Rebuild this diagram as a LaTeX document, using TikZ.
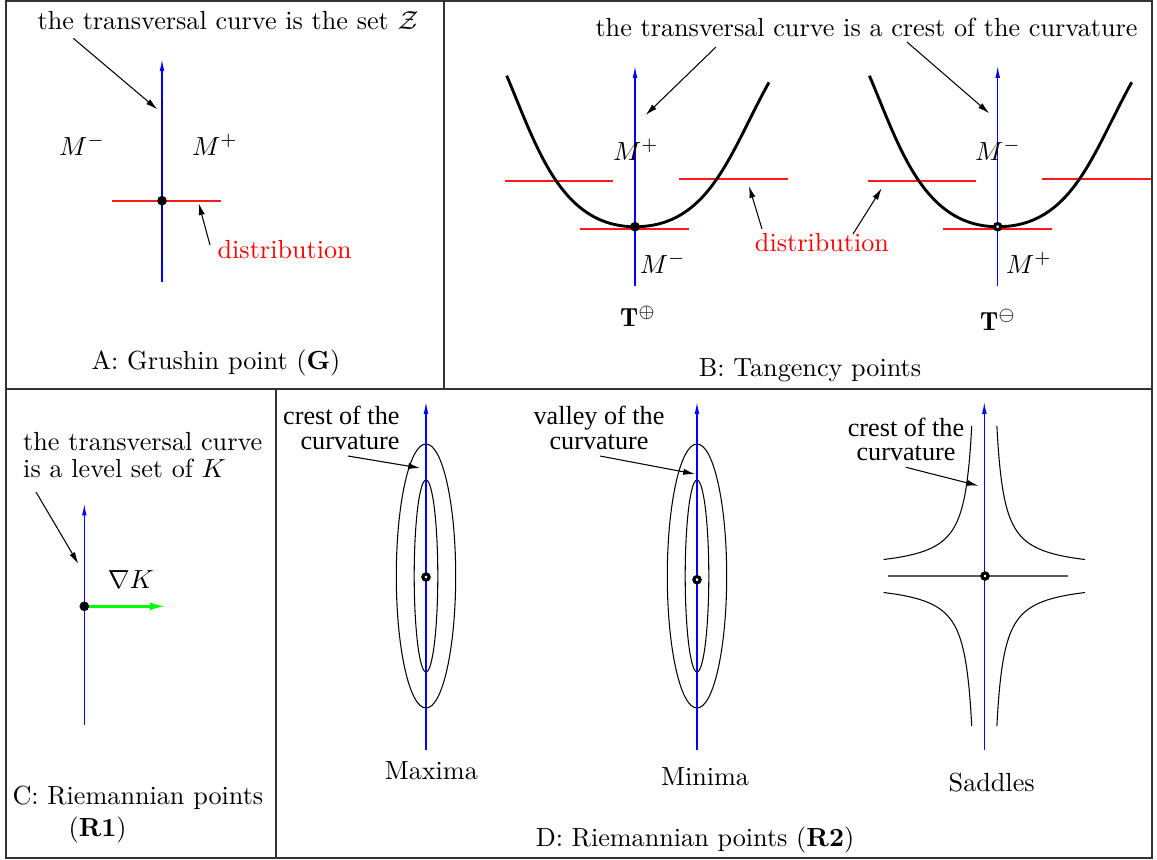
\documentclass[tikz,border=0pt]{standalone}
\usepackage{fontspec}
\newfontfamily\timesfont{Liberation Serif}
\usetikzlibrary{arrows.meta}
\begin{document}
\begin{tikzpicture}[x=0.382pt,y=-0.382pt,
    axis/.style={blue,line width=0.45pt,-{Latex[length=4.5pt,width=1.8pt]}},
    pointer/.style={line width=0.4pt,-{Latex[length=4.5pt,width=2.4pt]}},
    distr/.style={red!90,line width=0.7pt},
    ring/.style={line width=1.2pt},
    level/.style={line width=0.4pt},
    tag/.style={anchor=base},
    note/.style={anchor=base,align=center,font=\timesfont\fontsize{10}{9.3}\selectfont}]
    \useasboundingbox (0,0) rectangle (1157,859);
    % frames
    \draw[gray!40!black,line width=0.75pt] (6,1) rectangle (1152,858);
    \draw[gray!40!black,line width=0.75pt] (6,389) -- (1152,389) (444,1) -- (444,389) (276,389) -- (276,858);

    % A: Grushin point
    \coordinate (gA) at (162,200.7);
    \coordinate (zA) at (73.3,38.3);
    \coordinate (zB) at (157.3,109.3);
    \coordinate (dA) at (210,245);
    \coordinate (dB) at (198.7,203.3);
    \draw[axis] (162,281.7) -- (162,59.3);
    \draw[blue!70!black,line width=1.1pt] (162,263.3) -- (162,98.3);
    \draw[distr] (112,201.3) -- (220.7,201.3);
    \draw[ring,fill] (gA) circle (1.2pt);
    \node[tag] (titleA) at (228.2,29.3) {the transversal curve is the set $\mathcal{Z}$};
    \node[tag] (mminusA) at (82,155) {$M^-$};
    \node[tag] (mplusA) at (215,155) {$M^+$};
    \node[tag,red] (distA) at (284.7,258.3) {distribution};
    \node[tag] (capA) at (216,369) {A: Grushin point (\textbf{G})};
    \draw[pointer] (zA) -- (zB);
    \draw[pointer] (dA) -- (dB);

    % B: tangency points
    \foreach \cx/\f in {635/black,997.7/white}{
      \draw[axis] (\cx,286) -- (\cx,66);
      \draw[distr] ({\cx-130},180.7) -- ({\cx-22},180.7);
      \draw[distr] ({\cx+44.3},179.3) -- ({\cx+153},179.3);
      \draw[distr] ({\cx-55},229) -- ({\cx+54},229);
      \draw[line width=1.1pt] ({\cx-128.3},75.7) .. controls ({\cx-98.5},145.7) and ({\cx-75},226.7) .. (\cx,226.7)
        .. controls ({\cx+75},226.7) and ({\cx+95.1},152.3) .. ({\cx+134},82.3);
      \draw[ring,fill=\f] (\cx,226.7) circle (1.2pt);
    }
    \coordinate (cA) at (716,47);
    \coordinate (cB) at (645.7,115);
    \coordinate (cC) at (907,42);
    \coordinate (cD) at (989.3,113.3);
    \coordinate (eA) at (762,229);
    \coordinate (eB) at (749,186);
    \coordinate (eC) at (853,234);
    \coordinate (eD) at (881.7,188.3);
    \node[tag] (titleB) at (866.5,36) {the transversal curve is a crest of the curvature};
    \node[tag] (mplusB) at (636,160) {$M^+$};
    \node[tag] (mminusB) at (662.8,273.3) {$M^-$};
    \node[tag] (tplus) at (638,326.7) {$\mathbf{T}^{\oplus}$};
    \node[tag] (mminusC) at (998,160) {$M^-$};
    \node[tag] (mplusC) at (1029,273.3) {$M^+$};
    \node[tag] (tminus) at (998,330) {$\mathbf{T}^{\ominus}$};
    \node[tag,red] (distB) at (822,251.7) {distribution};
    \node[tag] (capB) at (810,376.7) {B: Tangency points};
    \draw[pointer] (cA) -- (cB);
    \draw[pointer] (cC) -- (cD);
    \draw[pointer] (eA) -- (eB);
    \draw[pointer] (eC) -- (eD);

    % C: Riemannian points R1
    \coordinate (gC) at (84.3,606.3);
    \coordinate (kA) at (36,492);
    \coordinate (kB) at (78.3,563.7);
    \coordinate (kE) at (166.7,606.3);
    \draw[axis] (84.3,725.3) -- (84.3,503.7);
    \draw[green,line width=1.1pt,-{Latex[length=6.4pt,width=3pt]}] (gC) -- (kE);
    \draw[ring,fill] (gC) circle (1.2pt);
    \node[anchor=base west,align=left,font=\fontsize{10}{10.2}\selectfont] (titleC) at (14,477.3)
      {the transversal curve\\is a level set of $K$};
    \node[tag] (gradK) at (130.8,588) {$\nabla K$};
    \node[anchor=base west,align=left] (capC) at (3.3,836.3)
      {C: Riemannian points\\\hspace*{21.4pt}(\textbf{R1})};
    \draw[pointer] (kA) -- (kB);

    % D: Riemannian points R2
    \foreach \cx/\cy in {426/577,697/579.7}{
      \draw[level] (\cx,576) ellipse [x radius=29.7, y radius=132];
      \draw[level] (\cx,576) ellipse [x radius=11.8, y radius=96];
      \draw[axis] (\cx,750) -- (\cx,402);
      \draw[ring,fill=white] (\cx,\cy) circle (1.2pt);
    }
    \foreach \sx/\sy in {1/1,1/-1,-1/1,-1/-1}
      \draw[level] plot[domain=11.5:145,samples=80,smooth,variable=\t]
        ({984.3+\sx*(5+1100/\t)},{576+\sy*(5+\t)});
    \draw[gray!70!black,line width=0.5pt] (888,576) -- (1068,576);
    \draw[axis] (984.3,750) -- (984.3,402);
    \draw[ring,fill=white] (985,576) circle (1.2pt);
    \coordinate (hA) at (348,456);
    \coordinate (hB) at (420,468);
    \coordinate (vA) at (600,456);
    \coordinate (vB) at (695,474);
    \coordinate (sA) at (906,467.3);
    \coordinate (sB) at (978.3,485.7);
    \node[note,align=right,anchor=base east] (crestA) at (408.7,449) {crest of the\\curvature};
    \node[note] (valley) at (599,449) {valley of the\\curvature};
    \node[note] (crestB) at (906,460.7) {crest of the\\curvature};
    \node[tag] (maxima) at (431.3,779.7) {Maxima};
    \node[tag] (minima) at (705,785.3) {Minima};
    \node[tag] (saddles) at (991.7,791.3) {Saddles};
    \node[tag] (capD) at (695,846.3) {D: Riemannian points (\textbf{R2})};
    \draw[pointer] (hA) -- (hB);
    \draw[pointer] (vA) -- (vB);
    \draw[pointer] (sA) -- (sB);
\end{tikzpicture}
\end{document}
